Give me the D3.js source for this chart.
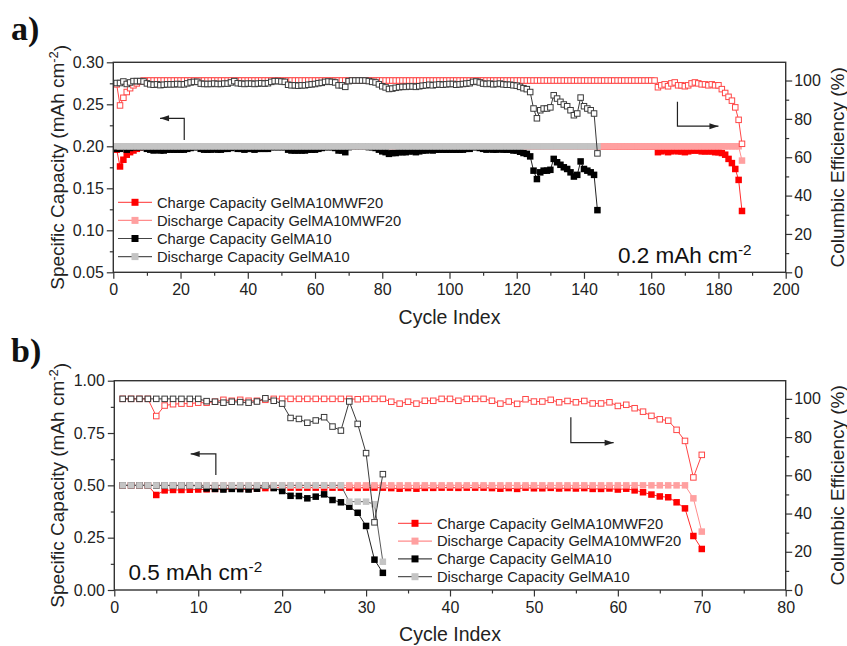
<!DOCTYPE html>
<html>
<head>
<meta charset="utf-8">
<script src="https://cdn.jsdelivr.net/npm/d3@7"></script>
<style>
  body { margin: 0; background: #fff; }
  text { font-family: "Liberation Sans", Arial, sans-serif; }
</style>
</head>
<body>
<div id="chart"></div>
<script>
// ---- panel a) 0.2 mAh cm-2 ----
var topRedCharge = [
  0.196,0.176,0.184,0.190,0.193,0.195,0.197,0.199,0.200,0.200,
  0.2,0.2,0.2,0.2,0.2,0.2,0.2,0.2,0.2,0.2,
  0.2,0.2,0.2,0.2,0.2,0.2,0.2,0.2,0.2,0.2,
  0.2,0.2,0.2,0.2,0.2,0.2,0.2,0.2,0.2,0.2,
  0.2,0.2,0.2,0.2,0.2,0.2,0.2,0.2,0.2,0.2,
  0.2,0.2,0.2,0.2,0.2,0.2,0.2,0.2,0.2,0.2,
  0.2,0.2,0.2,0.2,0.2,0.2,0.2,0.2,0.2,0.2,
  0.2,0.2,0.2,0.2,0.2,0.2,0.2,0.2,0.2,0.2,
  0.2,0.2,0.2,0.2,0.2,0.2,0.2,0.2,0.2,0.2,
  0.2,0.2,0.2,0.2,0.2,0.2,0.2,0.2,0.2,0.2,
  0.2,0.2,0.2,0.2,0.2,0.2,0.2,0.2,0.2,0.2,
  0.2,0.2,0.2,0.2,0.2,0.2,0.2,0.2,0.2,0.2,
  0.2,0.2,0.2,0.2,0.2,0.2,0.2,0.2,0.2,0.2,
  0.2,0.2,0.2,0.2,0.2,0.2,0.2,0.2,0.2,0.2,
  0.2,0.2,0.2,0.2,0.2,0.2,0.2,0.2,0.2,0.2,
  0.2,0.2,0.2,0.2,0.2,0.2,0.2,0.2,0.2,0.2,
  0.200,0.193,0.194,0.195,0.193,0.194,0.195,0.194,0.194,0.193,
  0.194,0.195,0.195,0.195,0.194,0.194,0.194,0.194,0.193,0.193,
  0.192,0.190,0.185,0.180,0.173,0.160,0.123
];
var topRedDischarge = [
  0.2,0.2,0.2,0.2,0.2,0.2,0.2,0.2,0.2,0.2,
  0.2,0.2,0.2,0.2,0.2,0.2,0.2,0.2,0.2,0.2,
  0.2,0.2,0.2,0.2,0.2,0.2,0.2,0.2,0.2,0.2,
  0.2,0.2,0.2,0.2,0.2,0.2,0.2,0.2,0.2,0.2,
  0.2,0.2,0.2,0.2,0.2,0.2,0.2,0.2,0.2,0.2,
  0.2,0.2,0.2,0.2,0.2,0.2,0.2,0.2,0.2,0.2,
  0.2,0.2,0.2,0.2,0.2,0.2,0.2,0.2,0.2,0.2,
  0.2,0.2,0.2,0.2,0.2,0.2,0.2,0.2,0.2,0.2,
  0.2,0.2,0.2,0.2,0.2,0.2,0.2,0.2,0.2,0.2,
  0.2,0.2,0.2,0.2,0.2,0.2,0.2,0.2,0.2,0.2,
  0.2,0.2,0.2,0.2,0.2,0.2,0.2,0.2,0.2,0.2,
  0.2,0.2,0.2,0.2,0.2,0.2,0.2,0.2,0.2,0.2,
  0.2,0.2,0.2,0.2,0.2,0.2,0.2,0.2,0.2,0.2,
  0.2,0.2,0.2,0.2,0.2,0.2,0.2,0.2,0.2,0.2,
  0.2,0.2,0.2,0.2,0.2,0.2,0.2,0.2,0.2,0.2,
  0.2,0.2,0.2,0.2,0.2,0.2,0.2,0.2,0.2,0.2,
  0.2,0.2,0.2,0.2,0.2,0.2,0.2,0.2,0.2,0.2,
  0.2,0.2,0.2,0.2,0.2,0.2,0.2,0.2,0.2,0.2,
  0.2,0.2,0.2,0.2,0.2,0.2,0.183
];
var topRedCE = [
  98,87,91,94,96,97.5,98.5,99.5,100,100,
  100,100,100,100,100,100,100,100,100,100,
  100,100,100,100,100,100,100,100,100,100,
  100,100,100,100,100,100,100,100,100,100,
  100,100,100,100,100,100,100,100,100,100,
  100,100,100,100,100,100,100,100,100,100,
  100,100,100,100,100,100,100,100,100,100,
  100,100,100,100,100,100,100,100,100,100,
  100,100,100,100,100,100,100,100,100,100,
  100,100,100,100,100,100,100,100,100,100,
  100,100,100,100,100,100,100,100,100,100,
  100,100,100,100,100,100,100,100,100,100,
  100,100,100,100,100,100,100,100,100,100,
  100,100,100,100,100,100,100,100,100,100,
  100,100,100,100,100,100,100,100,100,100,
  100,100,100,100,100,100,100,100,100,100,
  100,96.5,97.5,98,97,98.5,99,97.5,97.5,97,
  97.5,98.5,99,98.5,98,98,97.5,98,97.5,97.5,
  95.5,93.5,91.5,89.5,86,79.5,67
];
var topBlackCharge = [
  0.197,0.197,0.199,0.196,0.198,0.199,0.199,0.199,0.199,0.197,
  0.196,0.195,0.196,0.195,0.195,0.196,0.196,0.196,0.196,0.196,
  0.196,0.197,0.198,0.199,0.199,0.197,0.196,0.196,0.196,0.197,
  0.196,0.196,0.197,0.197,0.198,0.199,0.197,0.197,0.196,0.197,
  0.197,0.196,0.197,0.197,0.197,0.197,0.199,0.199,0.199,0.199,
  0.199,0.196,0.195,0.195,0.195,0.195,0.195,0.196,0.196,0.196,
  0.197,0.198,0.199,0.199,0.199,0.198,0.195,0.195,0.193,0.199,
  0.200,0.200,0.200,0.200,0.200,0.199,0.199,0.198,0.196,0.194,
  0.193,0.191,0.192,0.192,0.193,0.193,0.193,0.194,0.194,0.193,
  0.194,0.195,0.195,0.196,0.195,0.196,0.196,0.196,0.196,0.196,
  0.196,0.196,0.196,0.196,0.197,0.197,0.199,0.199,0.198,0.197,
  0.196,0.197,0.196,0.196,0.197,0.196,0.196,0.196,0.195,0.195,
  0.1935,0.192,0.191,0.188,0.171,0.161,0.169,0.171,0.171,0.172,
  0.185,0.181,0.178,0.175,0.173,0.169,0.164,0.166,0.182,0.173,
  0.171,0.169,0.166,0.124
];
var topBlackDischarge = [
  0.2,0.2,0.2,0.2,0.2,0.2,0.2,0.2,0.2,0.2,
  0.2,0.2,0.2,0.2,0.2,0.2,0.2,0.2,0.2,0.2,
  0.2,0.2,0.2,0.2,0.2,0.2,0.2,0.2,0.2,0.2,
  0.2,0.2,0.2,0.2,0.2,0.2,0.2,0.2,0.2,0.2,
  0.2,0.2,0.2,0.2,0.2,0.2,0.2,0.2,0.2,0.2,
  0.2,0.2,0.2,0.2,0.2,0.2,0.2,0.2,0.2,0.2,
  0.2,0.2,0.2,0.2,0.2,0.2,0.2,0.2,0.2,0.2,
  0.2,0.2,0.2,0.2,0.2,0.2,0.2,0.2,0.2,0.2,
  0.2,0.2,0.2,0.2,0.2,0.2,0.2,0.2,0.2,0.2,
  0.2,0.2,0.2,0.2,0.2,0.2,0.2,0.2,0.2,0.2,
  0.2,0.2,0.2,0.2,0.2,0.2,0.2,0.2,0.2,0.2,
  0.2,0.2,0.2,0.2,0.2,0.2,0.2,0.2,0.2,0.2,
  0.2,0.2,0.2,0.2,0.2,0.2,0.2,0.2,0.2,0.2,
  0.2,0.2,0.2,0.2,0.2,0.2,0.2,0.2,0.2,0.2,
  0.2,0.2,0.2,0.2
];
var topBlackCE = [
  98.7,98.7,99.5,98.2,99,99.7,99.7,99.7,99.5,98.5,
  98,97.8,98,97.6,97.8,98,98,98,98.2,98,
  98,98.5,99,99.3,99.3,98.4,98.2,98.2,98.2,98.4,
  98.2,98.2,98.4,98.4,99,99.7,98.6,98.4,98.2,98.4,
  98.4,98.2,98.4,98.6,98.4,98.6,99.3,99.7,99.7,99.5,
  99.3,97.8,97.5,97.5,97.3,97.5,97.5,97.8,98,98.2,
  98.6,98.8,99.3,99.5,99.3,99,97.5,97.5,96.7,99.7,
  100,100,100,100,100,99.7,99.3,99,98,97,
  96.4,95.6,95.8,96.2,96.5,96.7,96.7,96.9,96.9,96.7,
  97,97.3,97.5,97.8,97.5,97.8,98,97.8,98,98.2,
  98.2,97.8,98,98.2,98.4,98.6,99.3,99.5,99,98.4,
  98.2,98.4,98,98.2,98.4,98,97.8,97.8,97.5,97.3,
  96.7,96,95.5,94,85.4,80.3,84.5,85.4,85.4,86,
  92.3,90.6,88.9,87.5,86.6,84.5,81.9,82.8,91.1,86.6,
  85.4,84.5,82.8,62
];

// ---- panel b) 0.5 mAh cm-2 ----
var botRedCharge = [
  0.499,0.499,0.499,0.499,0.454,0.476,0.478,0.478,0.479,0.480,
  0.481,0.483,0.486,0.485,0.486,0.485,0.485,0.487,0.489,0.489,
  0.489,0.489,0.489,0.489,0.489,0.489,0.489,0.489,0.488,0.489,
  0.489,0.489,0.487,0.484,0.487,0.484,0.488,0.488,0.489,0.489,
  0.488,0.489,0.489,0.489,0.487,0.484,0.487,0.483,0.489,0.486,
  0.486,0.488,0.485,0.487,0.485,0.487,0.483,0.483,0.485,0.480,
  0.484,0.476,0.467,0.456,0.447,0.443,0.419,0.390,0.258,0.196
];
var botRedDischarge = [
  0.5,0.5,0.5,0.5,0.5,0.5,0.5,0.5,0.5,0.5,
  0.5,0.5,0.5,0.5,0.5,0.5,0.5,0.5,0.5,0.5,
  0.5,0.5,0.5,0.5,0.5,0.5,0.5,0.5,0.5,0.5,
  0.5,0.5,0.5,0.5,0.5,0.5,0.5,0.5,0.5,0.5,
  0.5,0.5,0.5,0.5,0.5,0.5,0.5,0.5,0.5,0.5,
  0.5,0.5,0.5,0.5,0.5,0.5,0.5,0.5,0.5,0.5,
  0.5,0.5,0.5,0.5,0.5,0.5,0.5,0.5,0.438,0.279
];
var botRedCE = [
  100,100,100,100,91,96.5,97.2,97.5,97.5,98,
  98,98.5,99.5,99,99.5,99,99,99.5,100,100,
  100,100,100,100,100,100,100,100,99.8,100,
  100,100,98.5,97.5,98.5,97.5,99,99,100,100,
  99,100,100,100,99,97.5,98.6,97.4,99.8,98.6,
  98.6,99.5,98.2,98.9,98.2,98.9,97.6,97.6,98.2,96.3,
  96.9,95.1,93.3,91.1,89.3,88.6,83.8,78,58.9,70.7
];
var botBlackCharge = [
  0.5,0.5,0.5,0.5,0.499,0.499,0.499,0.499,0.499,0.498,
  0.485,0.483,0.480,0.483,0.482,0.480,0.484,0.498,0.487,0.473,
  0.450,0.449,0.438,0.446,0.457,0.430,0.419,0.398,0.369,0.306,
  0.145,0.082
];
var botBlackDischarge = [
  0.5,0.5,0.5,0.5,0.5,0.5,0.5,0.5,0.5,0.5,
  0.5,0.5,0.5,0.5,0.5,0.5,0.5,0.5,0.5,0.5,
  0.5,0.5,0.5,0.5,0.5,0.5,0.5,0.422,0.422,0.422,
  0.41,0.135
];
var botBlackCE = [
  100,100,100,100,100,100,100,100,100,100,
  98.8,98.5,98,98.5,98.3,98,98.6,100.3,99,97.5,
  90,89.5,87.5,88.7,90.4,85.5,83.4,98.6,86.9,71.6,
  35.4,60.6
];

// ---- ticks and labels ----
var topXTicks = [0, 20, 40, 60, 80, 100, 120, 140, 160, 180, 200];
var topXMinor = [10, 30, 50, 70, 90, 110, 130, 150, 170, 190];
var topYTicks = [0.05, 0.10, 0.15, 0.20, 0.25, 0.30];
var topYMinor = [0.075, 0.125, 0.175, 0.225, 0.275];
var botXTicks = [0, 10, 20, 30, 40, 50, 60, 70, 80];
var botXMinor = [5, 15, 25, 35, 45, 55, 65, 75];
var botYTicks = [0, 0.25, 0.5, 0.75, 1.0];
var botYMinor = [0.125, 0.375, 0.625, 0.875];
var ceTicks = [0, 20, 40, 60, 80, 100];
var ceMinor = [10, 30, 50, 70, 90];
var legendLabels = [
  "Charge Capacity GelMA10MWF20",
  "Discharge Capacity GelMA10MWF20",
  "Charge Capacity GelMA10",
  "Discharge Capacity GelMA10"
];

var w = 847, h = 646;
var svg = d3.select("#chart").append("svg")
  .attr("width", w).attr("height", h);

var sq = 6.5;

var styles = {
  redCharge:     { fill: "#ff0000", line: "#ff2d2d" },
  redDischarge:  { fill: "#ffa0a0", line: "#ff8c8c" },
  redCE:         { open: "#ff4646", line: "#ff4646" },
  blackCharge:   { fill: "#000000", line: "#222222" },
  blackDischarge:{ fill: "#c4c4c4", line: "#5a5a5a" },
  blackCE:       { open: "#3a3a3a", line: "#3a3a3a" }
};

function styleAxis(sel, fs) {
  sel.select(".domain").remove();
  sel.selectAll("line").attr("stroke", "#333").attr("stroke-width", 1.2);
  sel.selectAll("text").style("font-size", fs + "px").attr("fill", "#222");
}

function drawSeries(g, x, y, vals, st) {
  var pts = vals.map(function (v, i) { return [i + 1, v]; });
  g.append("path").datum(pts)
    .attr("d", d3.line().x(function (d) { return x(d[0]); }).y(function (d) { return y(d[1]); }))
    .attr("fill", "none").attr("stroke", st.line).attr("stroke-width", 1);
  var r = g.append("g").selectAll("rect").data(pts).enter().append("rect");
  if (st.open) {
    r.attr("x", function (d) { return x(d[0]) - (sq - 1) / 2; })
     .attr("y", function (d) { return y(d[1]) - (sq - 1) / 2; })
     .attr("width", sq - 1).attr("height", sq - 1)
     .attr("fill", "#fff").attr("stroke", st.open).attr("stroke-width", 1);
  } else {
    r.attr("x", function (d) { return x(d[0]) - sq / 2; })
     .attr("y", function (d) { return y(d[1]) - sq / 2; })
     .attr("width", sq).attr("height", sq)
     .attr("fill", st.fill);
  }
}

function supText(sel, before, sup, after) {
  sel.append("tspan").text(before);
  sel.append("tspan").attr("dy", "-0.5em").style("font-size", "0.68em").text(sup);
  sel.append("tspan").attr("dy", "0.5em").text(after);
}

function drawArrow(g, pts, xs, ys) {
  var line = d3.line().x(function (d) { return xs(d[0]); }).y(function (d) { return ys(d[1]); });
  g.append("path").datum(pts).attr("d", line)
    .attr("fill", "none").attr("stroke", "#222").attr("stroke-width", 1.2);
  var a = pts[pts.length - 1], b = pts[pts.length - 2];
  var x1 = xs(a[0]), y1 = ys(a[1]);
  var dir = xs(a[0]) < xs(b[0]) ? 1 : -1;
  g.append("path")
    .attr("d", "M" + x1 + "," + y1 + "L" + (x1 + dir * 9) + "," + (y1 - 3) + "L" + (x1 + dir * 9) + "," + (y1 + 3) + "Z")
    .attr("fill", "#222");
}

function drawPanel(p) {
  var g = svg.append("g");
  var x = d3.scaleLinear().domain(p.xDomain).range([p.left, p.right]);
  var y = d3.scaleLinear().domain(p.yDomain).range([p.bottom, p.top]);
  var yce = d3.scaleLinear().domain([0, 109.5]).range([p.bottom, p.top]);

  // minor ticks
  g.append("g").attr("transform", "translate(0," + p.bottom + ")")
    .call(d3.axisBottom(x).tickValues(p.xMinor).tickSize(3.5).tickFormat(""))
    .call(styleAxis, 16);
  g.append("g").attr("transform", "translate(" + p.left + ",0)")
    .call(d3.axisLeft(y).tickValues(p.yMinor).tickSize(3.5).tickFormat(""))
    .call(styleAxis, 16);
  g.append("g").attr("transform", "translate(" + p.right + ",0)")
    .call(d3.axisRight(yce).tickValues(ceMinor).tickSize(3.5).tickFormat(""))
    .call(styleAxis, 16);

  // major ticks
  g.append("g").attr("transform", "translate(0," + p.bottom + ")")
    .call(d3.axisBottom(x).tickValues(p.xTicks).tickSize(6.5).tickPadding(5).tickFormat(d3.format("d")))
    .call(styleAxis, 16);
  g.append("g").attr("transform", "translate(" + p.left + ",0)")
    .call(d3.axisLeft(y).tickValues(p.yTicks).tickSize(6.5).tickPadding(3).tickFormat(d3.format(".2f")))
    .call(styleAxis, 16);
  g.append("g").attr("transform", "translate(" + p.right + ",0)")
    .call(d3.axisRight(yce).tickValues(ceTicks).tickSize(6.5).tickPadding(2).tickFormat(d3.format("d")))
    .call(styleAxis, 16);

  // data
  var d = g.append("g");
  drawSeries(d, x, y, p.redCharge, styles.redCharge);
  drawSeries(d, x, y, p.redDischarge, styles.redDischarge);
  drawSeries(d, x, yce, p.redCE, styles.redCE);
  drawSeries(d, x, y, p.blackCharge, styles.blackCharge);
  drawSeries(d, x, y, p.blackDischarge, styles.blackDischarge);
  drawSeries(d, x, yce, p.blackCE, styles.blackCE);

  // frame
  g.append("rect")
    .attr("x", p.left).attr("y", p.top)
    .attr("width", p.right - p.left).attr("height", p.bottom - p.top)
    .attr("fill", "none").attr("stroke", "#333").attr("stroke-width", 1.4);

  // arrows
  drawArrow(g, p.arrowLeft, x, y);
  drawArrow(g, p.arrowRight, x, yce);

  // axis titles
  var midY = (p.top + p.bottom) / 2;
  g.append("text")
    .attr("transform", "translate(" + p.yTitleX + "," + midY + ") rotate(-90)")
    .attr("text-anchor", "middle").style("font-size", "19px").attr("fill", "#222")
    .call(supText, "Specific Capacity (mAh cm", "-2", ")");
  g.append("text")
    .attr("transform", "translate(" + p.ceTitleX + "," + midY + ") rotate(-90)")
    .attr("text-anchor", "middle").style("font-size", "19px").attr("fill", "#222")
    .text("Columbic Efficiency (%)");
  g.append("text")
    .attr("x", (p.left + p.right) / 2).attr("y", p.xTitleY)
    .attr("text-anchor", "middle").style("font-size", "19.5px").attr("fill", "#222")
    .text("Cycle Index");

  // rate annotation
  g.append("text")
    .attr("x", x(p.note[0])).attr("y", y(p.note[1]))
    .style("font-size", "22.5px").attr("fill", "#111")
    .call(supText, p.noteText, "-2", "");

  // panel letter
  svg.append("text")
    .attr("x", 11).attr("y", p.letterY)
    .style("font-family", "'Liberation Serif', 'Times New Roman', serif")
    .style("font-weight", "bold").style("font-size", "34px").attr("fill", "#111")
    .text(p.letter);

  // legend
  var legStyles = [styles.redCharge, styles.redDischarge, styles.blackCharge, styles.blackDischarge];
  var legLines = ["#ff5a5a", "#ff8c8c", "#444", "#555"];
  var lg = g.append("g");
  legendLabels.forEach(function (lab, i) {
    var ly = p.legY + i * p.legDy;
    lg.append("line").attr("x1", p.legX).attr("x2", p.legX + 34)
      .attr("y1", ly).attr("y2", ly).attr("stroke", legLines[i]).attr("stroke-width", 1.2);
    lg.append("rect").attr("x", p.legX + 17 - 3.5).attr("y", ly - 3.5)
      .attr("width", 7).attr("height", 7).attr("fill", legStyles[i].fill);
    lg.append("text").attr("x", p.legX + 39).attr("y", ly).attr("dy", "0.36em")
      .style("font-size", "14.7px").attr("fill", "#222").text(lab);
  });
}

drawPanel({
  xDomain: [0, 200], yDomain: [0.05, 0.30],
  left: 113.3, right: 785.7, top: 62.3, bottom: 272.3,
  xTicks: topXTicks, xMinor: topXMinor, yTicks: topYTicks, yMinor: topYMinor,
  redCharge: topRedCharge, redDischarge: topRedDischarge, redCE: topRedCE,
  blackCharge: topBlackCharge, blackDischarge: topBlackDischarge, blackCE: topBlackCE,
  arrowLeft: [[21.1, 0.2075], [21.1, 0.2333], [13.9, 0.2333]],
  arrowRight: [[167.8, 88.9], [167.8, 76.2], [180, 76.2]],
  note: [150.1, 0.061], noteText: "0.2 mAh cm",
  yTitleX: 64, ceTitleX: 844, xTitleY: 324,
  letter: "a)", letterY: 40,
  legX: 118, legY: 202.3, legDy: 18.1
});

drawPanel({
  xDomain: [0, 80], yDomain: [0, 1.0],
  left: 114.3, right: 785.7, top: 380.7, bottom: 590,
  xTicks: botXTicks, xMinor: botXMinor, yTicks: botYTicks, yMinor: botYMinor,
  redCharge: botRedCharge, redDischarge: botRedDischarge, redCE: botRedCE,
  blackCharge: botBlackCharge, blackDischarge: botBlackDischarge, blackCE: botBlackCE,
  arrowLeft: [[12.1, 0.549], [12.1, 0.65], [9.1, 0.65]],
  arrowRight: [[54.4, 90.4], [54.4, 77.1], [59.5, 77.1]],
  note: [1.7, 0.048], noteText: "0.5 mAh cm",
  yTitleX: 64, ceTitleX: 844, xTitleY: 641,
  letter: "b)", letterY: 362,
  legX: 398, legY: 523.3, legDy: 17.8
});
</script>
</body>
</html>
